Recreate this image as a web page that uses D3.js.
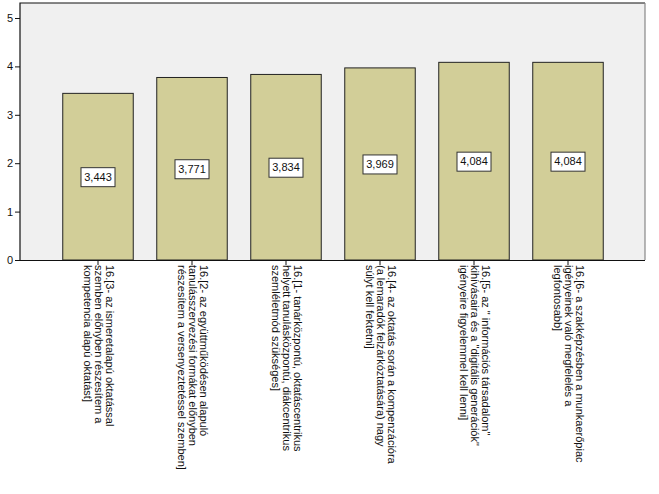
<!DOCTYPE html>
<html>
<head>
<meta charset="utf-8">
<script src="https://cdn.jsdelivr.net/npm/d3@7"></script>
<style>
  body { margin: 0; background: #fff; }
  svg { display: block; font-family: "Liberation Sans", Arial, sans-serif; }
</style>
</head>
<body>
<div id="chart"></div>
<script>
// data
const categories = ['q3', 'q2', 'q1', 'q4', 'q5', 'q6'];
const means = [3.443, 3.771, 3.834, 3.969, 4.084, 4.084];
const valueLabels = ['3,443', '3,771', '3,834', '3,969', '4,084', '4,084'];
const categoryLabels = [
  ['16.[3- az ismeretalapú oktatással', 'szemben előnyben részesítem a', 'kompetencia alapú oktatást]'],
  ['16.[2- az együttműködésen alapuló', 'tanulásszervezési formákat előnyben', 'részesítem a versenyeztetéssel szemben]'],
  ['16.[1- tanárközpontú, oktatáscentrikus', 'helyett tanulásközpontú, diákcentrikus', 'szemléletmód szükséges]'],
  ['16.[4- az oktatás során a kompenzációra', '(a lemaradók felzárkóztatására) nagy', 'súlyt kell fektetni]'],
  ['16.[5- az " információs társadalom"', 'kihívásaira és a "digitális generációk"', 'igényeire figyelemmel kell lenni]'],
  ['16.[6- a szakképzésben a munkaerőpiac', 'igényeinek való megfelelés a', 'legfontosabb]']
];
const yTicks = [0, 1, 2, 3, 4, 5];

const W = 659, H = 494;
const plot = { left: 20, right: 645, top: 3, bottom: 260 };

const svg = d3.select('#chart').append('svg')
  .attr('width', W).attr('height', H);

const x = d3.scaleBand()
  .domain(categories)
  .range([51, 615])
  .paddingInner(0.25)
  .paddingOuter(0.125);

const y = d3.scaleLinear()
  .domain([0, 5])
  .range([plot.bottom, 18]);

// background
svg.append('rect')
  .attr('x', plot.left).attr('y', plot.top)
  .attr('width', plot.right - plot.left)
  .attr('height', plot.bottom - plot.top)
  .attr('fill', '#f0f0f0')
  .attr('stroke', 'none');

// bars
svg.selectAll('.bar')
  .data(categories)
  .enter().append('rect')
  .attr('class', 'bar')
  .attr('x', d => x(d))
  .attr('width', x.bandwidth())
  .attr('y', (d, i) => y(means[i]))
  .attr('height', (d, i) => y(0) - y(means[i]))
  .attr('fill', '#d2ce98')
  .attr('stroke', '#222')
  .attr('stroke-width', 1);

// frame
svg.append('path')
  .attr('d', `M${plot.left},${plot.bottom}V${plot.top}H${plot.right}`)
  .attr('fill', 'none').attr('stroke', '#111').attr('stroke-width', 1.2);
svg.append('path')
  .attr('d', `M${plot.right},${plot.top}V${plot.bottom}`)
  .attr('fill', 'none').attr('stroke', '#888').attr('stroke-width', 1.2);

// y axis
const yAxisG = svg.append('g')
  .attr('transform', `translate(${plot.left},0)`)
  .call(d3.axisLeft(y).tickValues(yTicks).tickSize(5).tickFormat(d3.format('d')));
yAxisG.select('.domain').remove();
yAxisG.selectAll('line').attr('stroke', '#111');
yAxisG.selectAll('text')
  .attr('font-size', 11).attr('fill', '#111')
  .attr('font-family', '"Liberation Sans", Arial, sans-serif')
  .attr('x', -7);

// x axis
const xAxisG = svg.append('g')
  .attr('transform', `translate(0,${plot.bottom})`)
  .call(d3.axisBottom(x).tickSize(5).tickFormat(''));
xAxisG.select('.domain').attr('stroke', '#111').attr('stroke-width', 1.2)
  .attr('d', `M${plot.left},0.5H${plot.right}`);
xAxisG.selectAll('line').attr('stroke', '#111');

// category labels (rotated, read top to bottom)
const lineH = 11;
categories.forEach((c, i) => {
  const lines = categoryLabels[i];
  const cx = x(c) + x.bandwidth() / 2;
  const offset = (lines.length - 1) * lineH / 2;
  const t = svg.append('text')
    .attr('transform', `translate(${cx + offset - 3},${plot.bottom + 5}) rotate(90)`)
    .attr('font-size', 11)
    .attr('fill', '#111');
  lines.forEach((ln, j) => {
    t.append('tspan')
      .attr('x', 0)
      .attr('y', j * lineH)
      .text(ln);
  });
});

// value labels
const lbl = svg.selectAll('.vlabel')
  .data(categories)
  .enter().append('g')
  .attr('class', 'vlabel')
  .attr('transform', (d, i) => `translate(${x(d) + x.bandwidth() / 2},${(y(means[i]) + y(0)) / 2})`);
lbl.append('rect')
  .attr('x', -17).attr('y', -9)
  .attr('width', 34).attr('height', 19)
  .attr('fill', '#fff')
  .attr('stroke', '#333').attr('stroke-width', 1);
lbl.append('text')
  .attr('text-anchor', 'middle')
  .attr('dy', '0.35em')
  .attr('font-size', 11)
  .attr('fill', '#111')
  .text((d, i) => valueLabels[i]);
</script>
</body>
</html>
